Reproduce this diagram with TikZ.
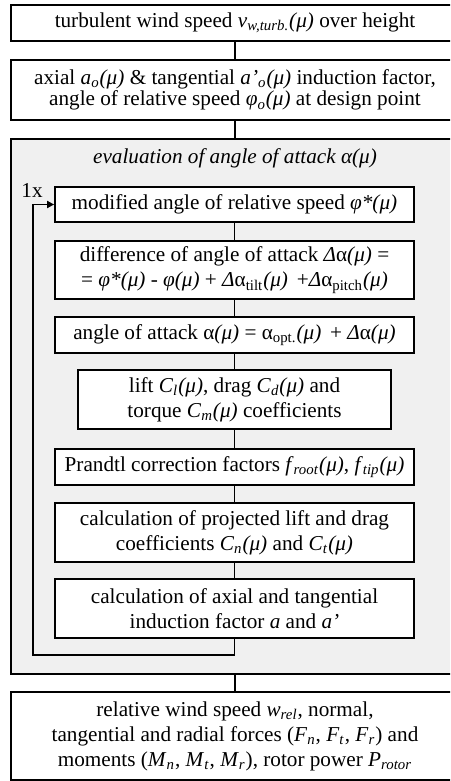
\documentclass[tikz,border=0pt]{standalone}
\usepackage{fontspec}
\setmainfont{Liberation Serif}
\usepackage{xcolor}
\usepackage{tikz}
\usetikzlibrary{arrows.meta}
\definecolor{framegray}{RGB}{240,240,240}
\newcommand{\ii}[1]{\textit{#1}}
\newcommand{\sbi}[1]{\textsubscript{\textit{#1}}}

\begin{document}
\begin{tikzpicture}[
  x=0.5pt,y=-0.5pt,
  font=\fontsize{10.6}{12.5}\selectfont,
  box/.style={draw,line width=0.9pt,fill=white,inner sep=0pt,align=center},
  outer/.style={box,minimum width=224pt},
  inner/.style={box,minimum width=179.5pt},
  ln/.style={line width=0.9pt},
  ar/.style={ln,-{Triangle[length=3.5pt,width=3.5pt]}}
]
\clip (0,0) rectangle (450,781);

\node[outer,minimum height=18pt] (wind) at (235,23)
  {turbulent wind speed \ii{v}\sbi{w,turb.}\ii{(μ)} over height};
\node[outer,minimum height=30pt,font=\fontsize{10.6}{10.6}\selectfont] (design) at (235,90)
  {axial \ii{a}\sbi{o}\ii{(μ)} \& tangential \ii{a’}\sbi{o}\ii{(μ)} induction factor,\\
   angle of relative speed \ii{φ}\sbi{o}\ii{(μ)} at design point};

% evaluation loop
\node[draw,line width=0.9pt,fill=framegray,minimum width=224pt,minimum height=267.5pt] (frame) at (235,406.5) {};
\node (title) at (235,158) {\ii{evaluation of angle of attack α(μ)}};

\node[inner,minimum height=17.5pt] (mod) at (234.5,204.5)
  {modified angle of relative speed \ii{φ*(μ)}};
\node[inner,minimum height=29pt] (diff) at (234.5,270)
  {difference of angle of attack \ii{Δ}α\ii{(μ)} =\\
   = \ii{φ*(μ)} - \ii{φ(μ)} + \ii{Δ}α\textsubscript{tilt}\ii{(μ)}\, +\ii{Δ}α\textsubscript{pitch}\ii{(μ)}};
\node[inner,minimum height=18pt] (aoa) at (234.5,335)
  {angle of attack α\ii{(μ)} = α\textsubscript{opt.}\ii{(μ)}\, + \ii{Δ}α\ii{(μ)}};
\node[box,minimum width=156.5pt,minimum height=29.5pt] (coef) at (234.5,399.5)
  {lift \ii{C}\sbi{l}\ii{(μ)}, drag \ii{C}\sbi{d}\ii{(μ)} and\\
   torque \ii{C}\sbi{m}\ii{(μ)} coefficients};
\node[inner,minimum height=18pt] (prandtl) at (234.5,467)
  {Prandtl correction factors \ii{f}\sbi{root}\ii{(μ)}, \ii{f}\sbi{tip}\ii{(μ)}};
\node[inner,minimum height=29.5pt] (proj) at (234.5,532.5)
  {calculation of projected lift and drag\\
   coefficients \ii{C}\sbi{n}\ii{(μ)} and \ii{C}\sbi{t}\ii{(μ)}};
\node[inner,minimum height=29.5pt] (induct) at (234.5,608.5)
  {calculation of axial and tangential\\
   induction factor \ii{a} and \ii{a’}};

\node[outer,minimum height=44pt] (result) at (235,736)
  {relative wind speed \ii{w}\sbi{rel}, normal,\\
   tangential and radial forces (\ii{F}\sbi{n}, \ii{F}\sbi{t}, \ii{F}\sbi{r}) and\\
   moments (\ii{M}\sbi{n}, \ii{M}\sbi{t}, \ii{M}\sbi{r}), rotor power \ii{P}\sbi{rotor}};

% connectors
\draw[ln] (wind) -- (design);
\draw[ln] (design) -- (frame);
\draw[ln] (mod) -- (diff);
\draw[ln] (diff) -- (aoa);
\draw[ln] (aoa) -- (coef);
\draw[ln] (coef) -- (prandtl);
\draw[ln] (prandtl) -- (proj);
\draw[ln] (proj) -- (induct);
\draw[ln] (frame) -- (result);

\coordinate (loopcorner) at (33,655);
\draw[ar] (induct.south) |- (loopcorner) |- (mod.west);
\node (once) at (32,191) {1x};
\end{tikzpicture}
\end{document}
